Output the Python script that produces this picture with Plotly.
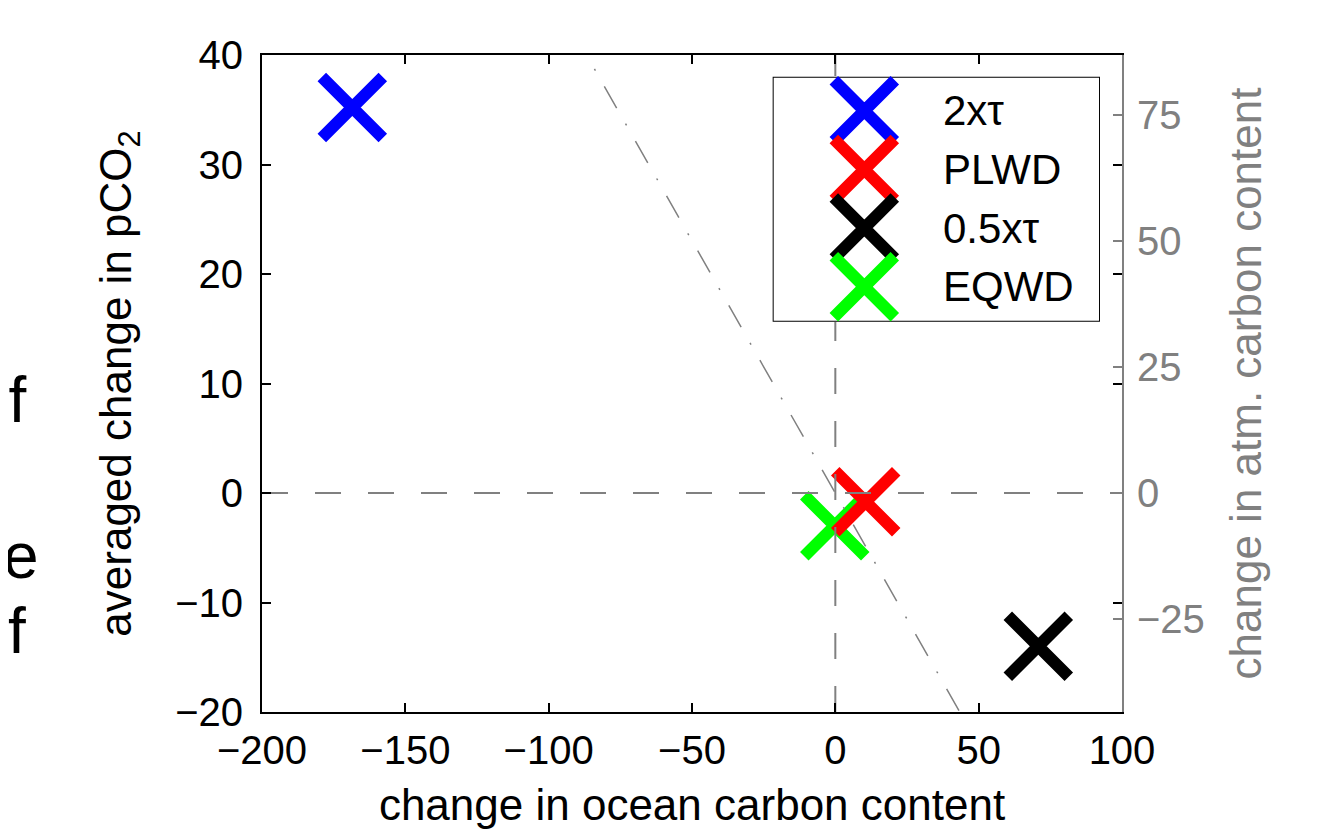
import plotly.graph_objects as go

# ---------------- data ----------------
series_names = ["2xτ", "PLWD", "0.5xτ", "EQWD"]
ocean_change = [-168.5, 10.6, 70.8, -0.2]      # change in ocean carbon content
pco2_change = [35.2, -0.8, -14.0, -3.0]        # averaged change in pCO2
series_colors = ["#0000ff", "#ff0000", "#000000", "#00ff00"]
draw_order = [0, 2, 3, 1]                      # red drawn over green

x_range = [-200, 100]
y_range = [-20, 40]
x_ticks = [-200, -150, -100, -50, 0, 50, 100]
y_ticks = [-20, -10, 0, 10, 20, 30, 40]
atm_ticks = [-25, 0, 25, 50, 75]
ppm_to_carbon = 2.17                           # pCO2 -> atm. carbon conversion

side_fragments = ["of", "e", "f"]              # clipped text of neighbouring panel

# ---------------- style ----------------
FONT = "Liberation Sans, Arial, Helvetica, sans-serif"
GREY = "#808080"
MSIZE = 61
MLW = 12

fig = go.Figure()

for i in draw_order:
    fig.add_trace(go.Scatter(
        x=[ocean_change[i]], y=[pco2_change[i]], mode="markers", name=series_names[i],
        marker=dict(symbol="x-thin", size=MSIZE, color=series_colors[i],
                    line=dict(width=MLW, color=series_colors[i])),
        showlegend=False, cliponaxis=False))

# zero reference lines
fig.add_trace(go.Scatter(x=x_range, y=[0, 0], mode="lines", showlegend=False,
                         line=dict(color=GREY, width=2, dash="26px,27px"), hoverinfo="skip"))
fig.add_trace(go.Scatter(x=[0, 0], y=y_range, mode="lines", showlegend=False,
                         line=dict(color=GREY, width=2, dash="26px,27px"), hoverinfo="skip"))
# ocean + atmosphere = 0 line (in atm. carbon units)
fig.add_trace(go.Scatter(x=x_range, y=[-v for v in x_range], yaxis="y2", mode="lines",
                         showlegend=False, hoverinfo="skip",
                         line=dict(color=GREY, width=1.5, dash="25px,18px,2px,18px")))

# ---------------- custom legend (large markers) ----------------
leg_x0, leg_x1 = 0.5938, 0.9744
leg_y0, leg_y1 = 0.594, 0.967
row_top, row_step = 0.861, 0.2393
rows = [row_top - k * row_step for k in range(len(series_names))]

fig.add_shape(type="rect", xref="x3", yref="y3", x0=0, x1=1, y0=0, y1=1,
              layer="below", fillcolor="white", line=dict(color="black", width=2))
for k, name in enumerate(series_names):
    fig.add_trace(go.Scatter(
        x=[0.28], y=[rows[k]], xaxis="x3", yaxis="y3", mode="markers", showlegend=False,
        marker=dict(symbol="x-thin", size=MSIZE, color=series_colors[k],
                    line=dict(width=MLW, color=series_colors[k])),
        hoverinfo="skip", cliponaxis=False))
    fig.add_annotation(x=0.514, y=rows[k], xref="x3", yref="y3", text=name,
                       showarrow=False, xanchor="left", yanchor="middle",
                       font=dict(size=42, color="black", family=FONT))

# clipped fragments from neighbouring panel at left edge
frag_pos = [(-0.2709, 0.475), (-0.2567, 0.2374), (-0.2720, 0.1233)]
for t, (px, py) in zip(side_fragments, frag_pos):
    fig.add_annotation(x=px, y=py, xref="paper", yref="paper", text=t, showarrow=False,
                       xanchor="right", yanchor="middle",
                       font=dict(size=64, color="black", family=FONT))

fig.update_layout(
    width=1323, height=821,
    margin=dict(l=254, r=209, t=47, b=117, autoexpand=False),
    paper_bgcolor="white", plot_bgcolor="white",
    font=dict(family=FONT, size=40, color="black"),
    showlegend=False,
    xaxis=dict(range=x_range, tickvals=x_ticks, ticks="inside", ticklen=9, tickwidth=2,
               tickcolor="black", showline=True, linecolor="black", linewidth=2,
               mirror="ticks", showgrid=False, zeroline=False,
               tickfont=dict(size=40), ticklabelstandoff=2,
               title=dict(text="change in ocean carbon content", font=dict(size=44),
                          standoff=18)),
    yaxis=dict(range=y_range, tickvals=y_ticks, ticks="inside", ticklen=9, tickwidth=2,
               tickcolor="black", showline=True, linecolor="black", linewidth=2,
               mirror="ticks", showgrid=False, zeroline=False,
               tickfont=dict(size=40), ticklabelstandoff=9,
               title=dict(text="averaged change in pCO<sub>2</sub>", font=dict(size=44),
                          standoff=30)),
    yaxis2=dict(overlaying="y", side="right",
                range=[ppm_to_carbon * y_range[0], ppm_to_carbon * y_range[1]],
                tickvals=atm_ticks, ticks="inside", ticklen=9, tickwidth=2,
                tickcolor=GREY, showline=True, linecolor=GREY, linewidth=2,
                showgrid=False, zeroline=False,
                tickfont=dict(size=40, color=GREY), ticklabelstandoff=5,
                title=dict(text="change in atm. carbon content",
                           font=dict(size=44, color=GREY), standoff=26)),
    xaxis3=dict(domain=[leg_x0, leg_x1], anchor="y3", range=[0, 1], visible=False,
                fixedrange=True),
    yaxis3=dict(domain=[leg_y0, leg_y1], anchor="x3", range=[0, 1], visible=False,
                fixedrange=True),
)

fig.write_html("out.html")
